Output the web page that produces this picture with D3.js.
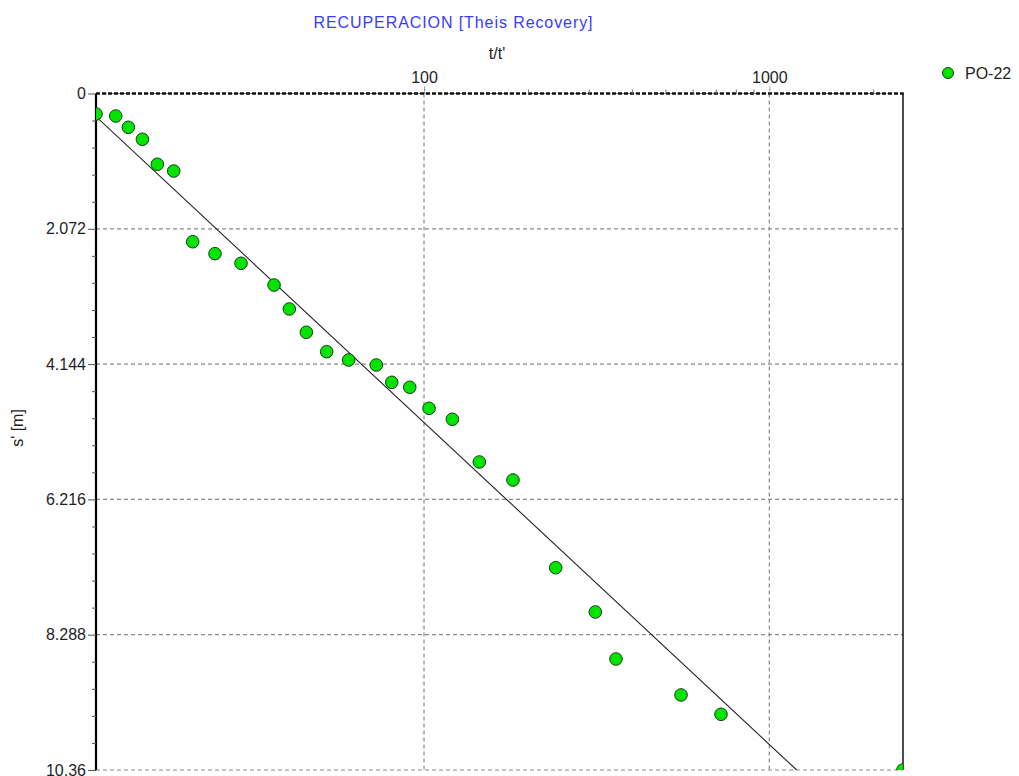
<!DOCTYPE html>
<html>
<head>
<meta charset="utf-8">
<script src="https://cdn.jsdelivr.net/npm/d3@7"></script>
<style>
  html, body { margin: 0; padding: 0; background: #fff; }
  svg { display: block; font-family: "Liberation Sans", Arial, sans-serif; }
</style>
</head>
<body>
<svg id="chart" width="1019" height="776"></svg>
<script>
// ---- data ----
const chartTitle = "RECUPERACION [Theis Recovery]";
const xLabel = "t/t'";
const yLabel = "s' [m]";
const seriesName = "PO-22";
const tRatio = [11.22, 12.8, 13.92, 15.29, 16.89, 18.84, 21.38, 24.81, 29.51, 36.78, 40.73, 45.62, 52.25, 60.52, 72.75, 80.64, 90.92, 103.4, 120.8, 144.6, 181.0, 240.6, 313.4, 359.7, 555.0, 724.6, 2439];
const sPrime = [0.314, 0.345, 0.518, 0.701, 1.084, 1.187, 2.270, 2.453, 2.600, 2.933, 3.300, 3.657, 3.954, 4.081, 4.158, 4.423, 4.499, 4.821, 4.989, 5.643, 5.919, 7.262, 7.940, 8.660, 9.211, 9.507, 10.36];
const yTicks = [0, 2.072, 4.144, 6.216, 8.288, 10.36];
const yTickLabels = ["0", "2.072", "4.144", "6.216", "8.288", "10.36"];
const xMajorTicks = [100, 1000];
const xMinorTicks = [200, 300, 400, 500, 600, 700, 800, 900, 2000];
const fitSlope = 4.931;      // s' per log10 cycle
const fitIntercept = -4.824;

// ---- layout ----
const svg = d3.select("#chart");
const L = 96, R = 903, T = 93.5, B = 770;

const x = d3.scaleLog().domain([d3.min(tRatio), d3.max(tRatio)]).range([L, R]);
const y = d3.scaleLinear().domain([0, 10.36]).range([T, B]);

svg.append("defs").append("clipPath").attr("id", "clip")
  .append("rect").attr("x", L).attr("y", T).attr("width", R - L).attr("height", B - T);

// grid
const grid = svg.append("g");
grid.selectAll("line.gx").data(xMajorTicks).join("line")
  .attr("x1", d => x(d)).attr("x2", d => x(d)).attr("y1", T).attr("y2", B)
  .attr("stroke", "#8a8a8a").attr("stroke-width", 1.2).attr("stroke-dasharray", "4,3");
grid.selectAll("line.gy").data(yTicks).join("line")
  .attr("x1", L).attr("x2", R).attr("y1", d => y(d)).attr("y2", d => y(d))
  .attr("stroke", "#8a8a8a").attr("stroke-width", 1.2).attr("stroke-dasharray", "4,3");

// borders
svg.append("line").attr("x1", L).attr("x2", L).attr("y1", T).attr("y2", B)
  .attr("stroke", "#000").attr("stroke-width", 2.2);
svg.append("line").attr("x1", R).attr("x2", R).attr("y1", T).attr("y2", B)
  .attr("stroke", "#000").attr("stroke-width", 1.4);
svg.append("line").attr("x1", L).attr("x2", R + 0.7).attr("y1", T).attr("y2", T)
  .attr("stroke", "#111").attr("stroke-width", 2.4).attr("stroke-dasharray", "4,2");

// top axis (log)
const topAxis = d3.axisTop(x).tickValues(xMajorTicks).tickSize(7).tickPadding(4)
  .tickFormat(d3.format("d"));
const gTop = svg.append("g").attr("transform", `translate(0,${T})`).call(topAxis);
gTop.select(".domain").remove();
gTop.selectAll(".tick line").attr("stroke", "#666").attr("stroke-dasharray", "2,1");
gTop.selectAll(".tick text").attr("font-size", 16).attr("fill", "#1e1e2a")
  .attr("font-family", "Liberation Sans, Arial, sans-serif");
const minorTop = d3.axisTop(x).tickValues(xMinorTicks).tickSize(4).tickFormat("");
const gTopMinor = svg.append("g").attr("transform", `translate(0,${T})`).call(minorTop);
gTopMinor.select(".domain").remove();
gTopMinor.selectAll(".tick line").attr("stroke", "#777");

// left axis
const leftAxis = d3.axisLeft(y).tickValues(yTicks).tickFormat((d, i) => yTickLabels[i])
  .tickSize(8).tickPadding(2);
const gLeft = svg.append("g").attr("transform", `translate(${L},0)`).call(leftAxis);
gLeft.select(".domain").remove();
gLeft.selectAll(".tick line").attr("stroke", "#555");
gLeft.selectAll(".tick text").attr("font-size", 16).attr("fill", "#1e1e2a")
  .attr("font-family", "Liberation Sans, Arial, sans-serif");
const yMinor = [];
for (let i = 0; i < yTicks.length - 1; i++) {
  for (let k = 1; k < 5; k++) yMinor.push(yTicks[i] + (yTicks[i + 1] - yTicks[i]) * k / 5);
}
const gLeftMinor = svg.append("g").attr("transform", `translate(${L},0)`)
  .call(d3.axisLeft(y).tickValues(yMinor).tickSize(4).tickFormat(""));
gLeftMinor.select(".domain").remove();
gLeftMinor.selectAll(".tick line").attr("stroke", "#555");

// fitted line
const fit = t => fitSlope * Math.log10(t) + fitIntercept;
const tEnd = Math.pow(10, (10.36 - fitIntercept) / fitSlope);
const lineData = [d3.min(tRatio), tEnd];
svg.append("path").datum(lineData)
  .attr("clip-path", "url(#clip)")
  .attr("d", d3.line().x(d => x(d)).y(d => y(fit(d))))
  .attr("fill", "none").attr("stroke", "#222").attr("stroke-width", 1.1);

// points
svg.append("g").attr("clip-path", "url(#clip)")
  .selectAll("circle").data(tRatio).join("circle")
  .attr("cx", d => x(d)).attr("cy", (d, i) => y(sPrime[i])).attr("r", 6.3)
  .attr("fill", "#00e400").attr("stroke", "#1c3a1c").attr("stroke-width", 1);

// titles
svg.append("text").attr("x", 453).attr("y", 28).attr("text-anchor", "middle")
  .attr("font-size", 16).attr("fill", "#3a3aff")
  .attr("textLength", 279).attr("lengthAdjust", "spacing").text(chartTitle);
svg.append("text").attr("x", 497).attr("y", 59).attr("text-anchor", "middle")
  .attr("font-size", 16).attr("fill", "#222").text(xLabel);
svg.append("text").attr("transform", "translate(23,428) rotate(-90)").attr("text-anchor", "middle")
  .attr("font-size", 16).attr("fill", "#222").text(yLabel);

// legend
svg.append("circle").attr("cx", 948).attr("cy", 73).attr("r", 5.5)
  .attr("fill", "#00e400").attr("stroke", "#1c3a1c").attr("stroke-width", 1);
svg.append("text").attr("x", 965).attr("y", 79).attr("font-size", 16).attr("fill", "#222").text(seriesName);
</script>
</body>
</html>
